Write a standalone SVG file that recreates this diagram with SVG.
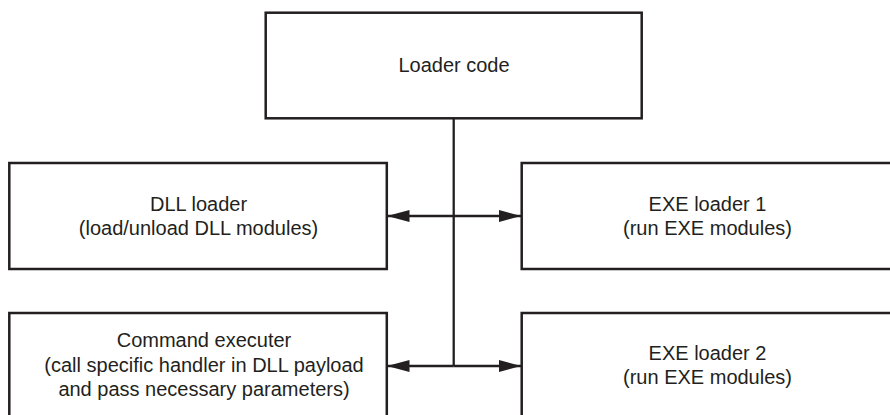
<svg xmlns="http://www.w3.org/2000/svg" width="890" height="415" viewBox="0 0 890 415">
  <style>
    .box { fill: #ffffff; stroke: #231f20; stroke-width: 2.5; }
    .lbl { font-family: "Liberation Sans", Arial, sans-serif; font-size: 20px; fill: #231f20; text-anchor: middle; }
    .conn { stroke: #231f20; stroke-width: 2.3; fill: none; }
  </style>
  <defs>
    <marker id="arr" viewBox="0 0 22 12" refX="22" refY="6" markerWidth="22" markerHeight="12" markerUnits="userSpaceOnUse" orient="auto">
      <path d="M0,0 L22,6 L0,12 Z" fill="#231f20"/>
    </marker>
  </defs>
  <rect width="890" height="415" fill="#ffffff"/>

  <g id="loader-code">
    <rect class="box" x="265.7" y="12.7" width="376" height="105.6"/>
    <text class="lbl" x="454" y="72.3">Loader code</text>
  </g>

  <g id="dll-loader">
    <rect class="box" x="9.3" y="163" width="377.5" height="106"/>
    <text class="lbl" x="198.5" y="211">DLL loader</text>
    <text class="lbl" x="198.5" y="235">(load/unload DLL modules)</text>
  </g>

  <g id="exe-loader-1">
    <rect class="box" x="521.7" y="163" width="372" height="106"/>
    <text class="lbl" x="707.5" y="211">EXE loader 1</text>
    <text class="lbl" x="707.5" y="235">(run EXE modules)</text>
  </g>

  <g id="command-executer">
    <rect class="box" x="9.3" y="313" width="377.5" height="106"/>
    <text class="lbl" x="204" y="347">Command executer</text>
    <text class="lbl" x="204" y="371.5">(call specific handler in DLL payload</text>
    <text class="lbl" x="204" y="396">and pass necessary parameters)</text>
  </g>

  <g id="exe-loader-2">
    <rect class="box" x="521.7" y="313" width="372" height="106"/>
    <text class="lbl" x="707.5" y="360">EXE loader 2</text>
    <text class="lbl" x="707.5" y="384">(run EXE modules)</text>
  </g>

  <g id="connectors">
    <line class="conn" x1="453.7" y1="118.3" x2="453.7" y2="366"/>
    <line class="conn" x1="453.7" y1="216" x2="387.5" y2="216" marker-end="url(#arr)"/>
    <line class="conn" x1="453.7" y1="216" x2="521" y2="216" marker-end="url(#arr)"/>
    <line class="conn" x1="453.7" y1="366" x2="387.5" y2="366" marker-end="url(#arr)"/>
    <line class="conn" x1="453.7" y1="366" x2="521" y2="366" marker-end="url(#arr)"/>
  </g>
</svg>
